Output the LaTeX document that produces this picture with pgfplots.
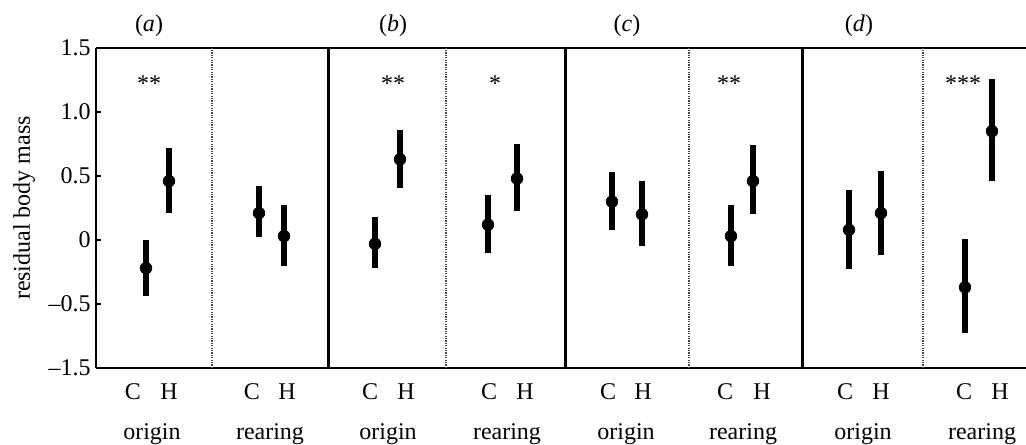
\documentclass[border=0pt]{standalone}
\usepackage{pgfplots}
\pgfplotsset{compat=1.18}
\usepackage{pgfplotstable}
\usepackage{fontspec}
\setmainfont{Liberation Serif}

% x in reference pixel units; columns: x, mean, upper and lower error
\pgfplotstableread{
x    y      ep    em
146  -0.22  0.22  0.22
169   0.46  0.26  0.25
259   0.21  0.21  0.19
284   0.03  0.24  0.23
375  -0.03  0.21  0.19
400   0.63  0.23  0.22
488   0.12  0.23  0.22
517   0.48  0.27  0.25
612   0.30  0.23  0.22
642   0.20  0.26  0.25
731   0.03  0.24  0.23
753   0.46  0.28  0.26
849   0.08  0.31  0.31
881   0.21  0.33  0.33
965  -0.37  0.38  0.36
992   0.85  0.41  0.39
}\resmass

\begin{document}
\fontsize{12}{14}\selectfont
\begin{tikzpicture}
\begin{axis}[
    at={(0,0)}, anchor=south west,
    scale only axis,
    width=465pt, height=160pt,
    xmin=96, xmax=1026,
    ymin=-1, ymax=1.5,
    axis x line*=box, axis y line*=left,
    axis line style={line width=1.1pt},
    clip=false,
    ytick={-1,-0.5,0,0.5,1,1.5},
    yticklabels={--1.5,--0.5,0,0.5,1.0,1.5},
    ytick style={line width=0.8pt, black},
    major tick length=2.5pt,
    yticklabel style={xshift=1.5pt},
    xtick={133,169,252,287,370,406,489,525,608,643,725,762,845,881,964,1000},
    xticklabels={C,H,C,H,C,H,C,H,C,H,C,H,C,H,C,H},
    x tick style={draw=none},
    xticklabel style={yshift=-3.5pt},
    ylabel={residual body mass},
    ylabel style={at={(axis description cs:-0.0774,0.5)}, rotate=0, anchor=center},
]
% panel separators
\foreach \s in {328,565,802}{
  \edef\tmp{\noexpand\draw[line width=1.5pt] (axis cs:\s,-1) -- (axis cs:\s,1.5);}\tmp
}
\foreach \s in {212,446,689,923}{
  \edef\tmp{\noexpand\draw[gray!55!black, line width=0.9pt, dash pattern=on 0.6pt off 0.6pt] (axis cs:\s,-1) -- (axis cs:\s,1.5);}\tmp
}
\addplot[black, only marks, mark=*, mark size=2.9pt,
    error bars/.cd, y dir=both, y explicit,
    error mark=none, error bar style={line width=2.7pt, black}]
    table[x=x, y=y, y error plus=ep, y error minus=em] {\resmass};

% panel letters
\node[anchor=base] at (axis cs:149,1.63) {(\textit{a})};
\node[anchor=base] at (axis cs:393,1.63) {(\textit{b})};
\node[anchor=base] at (axis cs:627,1.63) {(\textit{c})};
\node[anchor=base] at (axis cs:859,1.63) {(\textit{d})};
% significance
\node at (axis cs:149,1.22) {**};
\node at (axis cs:393,1.22) {**};
\node at (axis cs:495,1.22) {*};
\node at (axis cs:729,1.22) {**};
\node at (axis cs:963,1.22) {***};
% group labels
\node[anchor=base] at (axis cs:152,-1.56) {origin};
\node[anchor=base] at (axis cs:270,-1.56) {rearing};
\node[anchor=base] at (axis cs:388,-1.56) {origin};
\node[anchor=base] at (axis cs:507,-1.56) {rearing};
\node[anchor=base] at (axis cs:626,-1.56) {origin};
\node[anchor=base] at (axis cs:743,-1.56) {rearing};
\node[anchor=base] at (axis cs:863,-1.56) {origin};
\node[anchor=base] at (axis cs:982,-1.56) {rearing};
\end{axis}
\pgfresetboundingbox
\path[use as bounding box] (-48pt,-38pt) rectangle (465pt,184pt);
\end{tikzpicture}
\end{document}
